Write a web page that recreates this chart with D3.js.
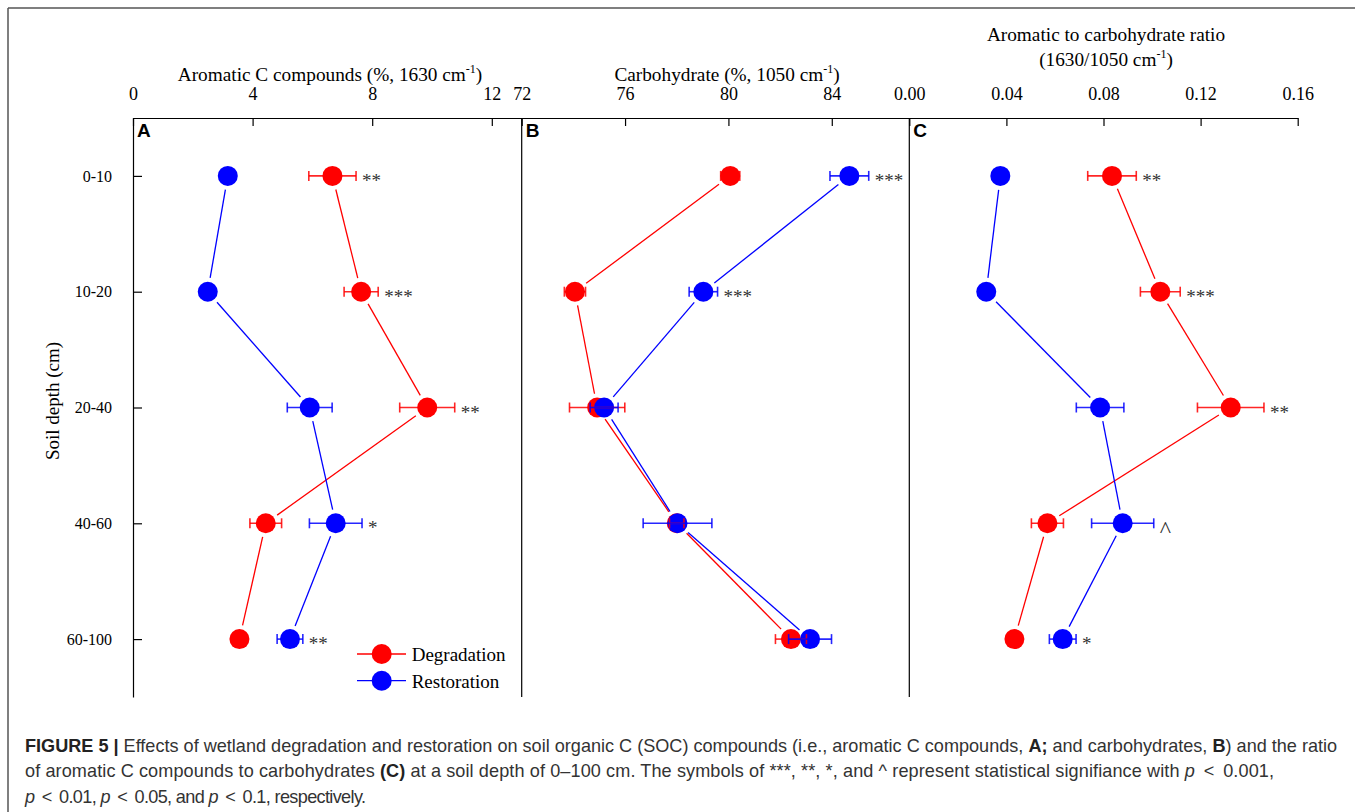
<!DOCTYPE html>
<html><head><meta charset="utf-8">
<script src="https://cdn.jsdelivr.net/npm/d3@7"></script>
<style>
body{margin:0;background:#fff;}
svg{display:block;}
</style></head><body>
<svg id="chart" width="1355" height="812"></svg>
<script>
// ---------- data ----------
const depths = ["0-10","10-20","20-40","40-60","60-100"];
const aromaticDeg    = [6.67, 7.63, 9.84, 4.44, 3.56];
const aromaticDegErr = [0.79, 0.57, 0.92, 0.53, 0.15];
const aromaticRes    = [3.17, 2.50, 5.91, 6.78, 5.25];
const aromaticResErr = [0.15, 0.15, 0.75, 0.88, 0.43];
const carbDeg    = [80.07, 74.06, 74.92, 78.00, 82.42];
const carbDegErr = [0.37, 0.41, 1.07, 0.28, 0.60];
const carbRes    = [84.68, 79.03, 75.19, 78.03, 83.16];
const carbResErr = [0.75, 0.55, 0.54, 1.33, 0.83];
const ratioDeg    = [0.0835, 0.1034, 0.1324, 0.0569, 0.0433];
const ratioDegErr = [0.0100, 0.0082, 0.0137, 0.0066, 0.0030];
const ratioRes    = [0.0375, 0.0317, 0.0786, 0.0879, 0.0632];
const ratioResErr = [0.0030, 0.0030, 0.0098, 0.0128, 0.0055];
const sigA = ["**","***","**","*","**"];
const sigB = ["***","***","","",""];
const sigC = ["**","***","**","^","*"];
const ticksA = [0,4,8,12];
const ticksB = [72,76,80,84];
const ticksC = [0,0.04,0.08,0.12,0.16];
const seriesNames = ["Degradation","Restoration"];
const seriesColors = ["#ff0000","#0000ff"];

// ---------- layout ----------
const svg = d3.select("#chart");
const SERIF = "'Liberation Serif','Times New Roman',Times,serif";
const SANS = "'Liberation Sans',Arial,Helvetica,sans-serif";
const yTop = 118, yBot = 697;
const y = d3.scalePoint().domain(depths).range([yTop, yBot]).padding(0.5);

// frame
svg.append("line").attr("x1",8).attr("x2",1355).attr("y1",8).attr("y2",8).attr("stroke","#555").attr("stroke-width",1.5);
svg.append("line").attr("x1",8).attr("x2",8).attr("y1",8).attr("y2",812).attr("stroke","#555").attr("stroke-width",1.5);

const panels = [
  {letter:"A", x0:133, x1:521.7, domain:[0,13], ticks:ticksA, fmt:d3.format("d"),
   deg:aromaticDeg, degErr:aromaticDegErr, res:aromaticRes, resErr:aromaticResErr, sig:sigA},
  {letter:"B", x0:521.7, x1:909.3, domain:[72,87], ticks:ticksB, fmt:d3.format("d"),
   deg:carbDeg, degErr:carbDegErr, res:carbRes, resErr:carbResErr, sig:sigB},
  {letter:"C", x0:909.3, x1:1297.7, domain:[0,0.16], ticks:ticksC, fmt:d3.format(".2f"),
   deg:ratioDeg, degErr:ratioDegErr, res:ratioRes, resErr:ratioResErr, sig:sigC}
];

panels.forEach((p,pi) => {
  const x = d3.scaleLinear().domain(p.domain).range([p.x0, p.x1]);
  // top axis
  const ax = svg.append("g").attr("transform",`translate(0,${yTop})`)
    .call(d3.axisTop(x).tickValues(p.ticks).tickFormat(p.fmt).tickSizeInner(-8).tickSizeOuter(0).tickPadding(18));
  ax.select(".domain").attr("stroke","#000").attr("stroke-width",1.2);
  ax.selectAll(".tick line").attr("stroke","#000").attr("stroke-width",1.2);
  ax.selectAll(".tick text").attr("font-family",SERIF).attr("font-size",18).attr("fill","#000");
  // left line
  if (pi === 0) {
    const ay = svg.append("g").attr("transform",`translate(${p.x0},0)`)
      .call(d3.axisLeft(y).tickSizeInner(-9).tickSizeOuter(0).tickPadding(21));
    ay.select(".domain").attr("stroke","#000").attr("stroke-width",1.2);
    ay.selectAll(".tick line").attr("stroke","#000").attr("stroke-width",1.2);
    ay.selectAll(".tick text").attr("font-family",SERIF).attr("font-size",16).attr("fill","#000");
  } else {
    svg.append("line").attr("x1",p.x0).attr("x2",p.x0).attr("y1",yTop).attr("y2",yBot)
      .attr("stroke","#000").attr("stroke-width",1.2);
  }
  // panel letter
  svg.append("text").attr("x",p.x0+4).attr("y",yTop+19).text(p.letter)
    .attr("font-family",SANS).attr("font-weight","bold").attr("font-size",19).attr("fill","#000");

  const series = [
    {vals:p.deg, err:p.degErr, color:seriesColors[0]},
    {vals:p.res, err:p.resErr, color:seriesColors[1]}
  ];
  const r = 10, gap = 4;
  // connecting lines with gaps
  series.forEach(s => {
    for (let i=0;i<depths.length-1;i++){
      const xa = x(s.vals[i]), ya = y(depths[i]);
      const xb = x(s.vals[i+1]), yb = y(depths[i+1]);
      const L = Math.hypot(xb-xa, yb-ya), ux=(xb-xa)/L, uy=(yb-ya)/L, off=r+gap;
      svg.append("line").attr("x1",xa+ux*off).attr("y1",ya+uy*off)
        .attr("x2",xb-ux*off).attr("y2",yb-uy*off)
        .attr("stroke",s.color).attr("stroke-width",1.3);
    }
  });
  // circles
  series.forEach(s => {
    svg.append("g").selectAll("circle").data(s.vals).join("circle")
      .attr("cx",d=>x(d)).attr("cy",(d,i)=>y(depths[i])).attr("r",r).attr("fill",s.color);
  });
  // error bars
  series.forEach(s => {
    const g = svg.append("g").attr("stroke",s.color).attr("stroke-width",1.6).attr("stroke-opacity",0.85);
    s.vals.forEach((v,i) => {
      const cy = y(depths[i]), lo = x(v - s.err[i]), hi = x(v + s.err[i]);
      g.append("line").attr("x1",lo).attr("x2",hi).attr("y1",cy).attr("y2",cy);
      g.append("line").attr("x1",lo).attr("x2",lo).attr("y1",cy-5).attr("y2",cy+5);
      g.append("line").attr("x1",hi).attr("x2",hi).attr("y1",cy-5).attr("y2",cy+5);
    });
  });
  // significance labels
  p.sig.forEach((sg,i) => {
    if (!sg) return;
    const right = Math.max(x(p.deg[i]+p.degErr[i]), x(p.res[i]+p.resErr[i]), x(p.deg[i])+r, x(p.res[i])+r);
    const isCaret = sg === "^";
    svg.append("text").attr("x",right+6).attr("y",y(depths[i]) + (isCaret?14:11)).text(sg)
      .attr("font-family",SERIF).attr("font-size",isCaret?24:19).attr("fill","#333");
  });
});

// axis titles
const TFS = 19.3;
function titleWithSup(xc, yb, pre, post){
  const t = svg.append("text").attr("x",xc).attr("y",yb).attr("text-anchor","middle")
    .attr("font-family",SERIF).attr("font-size",TFS).attr("fill","#000");
  t.append("tspan").text(pre);
  t.append("tspan").attr("font-size",12).attr("dy",-8).text("-1");
  t.append("tspan").attr("dy",8).text(post);
  return t;
}
titleWithSup(330, 81, "Aromatic C compounds (%, 1630 cm", ")");
titleWithSup(727, 81, "Carbohydrate (%, 1050 cm", ")");
svg.append("text").attr("x",1106).attr("y",41).attr("text-anchor","middle")
  .attr("font-family",SERIF).attr("font-size",TFS).attr("fill","#000").text("Aromatic to carbohydrate ratio");
titleWithSup(1106, 66, "(1630/1050 cm", ")");

// y title
svg.append("text").attr("transform","translate(59,401) rotate(-90)").attr("text-anchor","middle")
  .attr("font-family",SERIF).attr("font-size",19).attr("fill","#000").text("Soil depth (cm)");

// legend
const legY = [654, 680.7];
seriesNames.forEach((n,i) => {
  svg.append("line").attr("x1",357).attr("x2",406).attr("y1",legY[i]).attr("y2",legY[i])
    .attr("stroke",seriesColors[i]).attr("stroke-width",1.3);
  svg.append("circle").attr("cx",381.7).attr("cy",legY[i]).attr("r",10).attr("fill",seriesColors[i]);
  svg.append("text").attr("x",411.7).attr("y",legY[i]+7).text(n)
    .attr("font-family",SERIF).attr("font-size",19).attr("fill","#000");
});

// caption
const capLines = [
  [["FIGURE 5 | ","b"],["Effects of wetland degradation and restoration on soil organic C (SOC) compounds (i.e., aromatic C compounds, ",""],["A;","b"],[" and carbohydrates, ",""],["B","b"],[") and the ratio",""]],
  [["of aromatic C compounds to carbohydrates ",""],["(C)","b"],[" at a soil depth of 0\u2013100 cm. The symbols of ***, **, *, and ^ represent statistical signifiance with ",""],["p","i"],[" \u2009<\u2009 0.001,",""]],
  [["p","i"],[" \u2009<\u2009 0.01, ",""],["p","i"],[" \u2009<\u2009 0.05, and ",""],["p","i"],[" \u2009<\u2009 0.1, respectively.",""]]
];
const capBase = [751.7, 777.3, 802.9];
const capWidths = [1313, 1249, 341];
let capFs = 17;
const capTexts = capLines.map((line,li) => {
  const t = svg.append("text").attr("x",25).attr("y",capBase[li])
    .attr("font-family",SANS).attr("font-size",capFs).attr("fill","#333");
  line.forEach(([s,st]) => {
    const ts = t.append("tspan").text(s);
    if (st==="b") ts.attr("font-weight","bold").attr("fill","#222");
    if (st==="i") ts.attr("font-style","italic");
  });
  return t;
});
// fit first line to measured width of reference, then stretch the others to their widths
const w0 = capTexts[0].node().getComputedTextLength();
capFs = capFs * 1313 / w0;
capTexts.forEach((t,i) => {
  t.attr("font-size", capFs);
  if (i > 0) t.attr("textLength", capWidths[i]).attr("lengthAdjust","spacing");
});
</script>
</body></html>
